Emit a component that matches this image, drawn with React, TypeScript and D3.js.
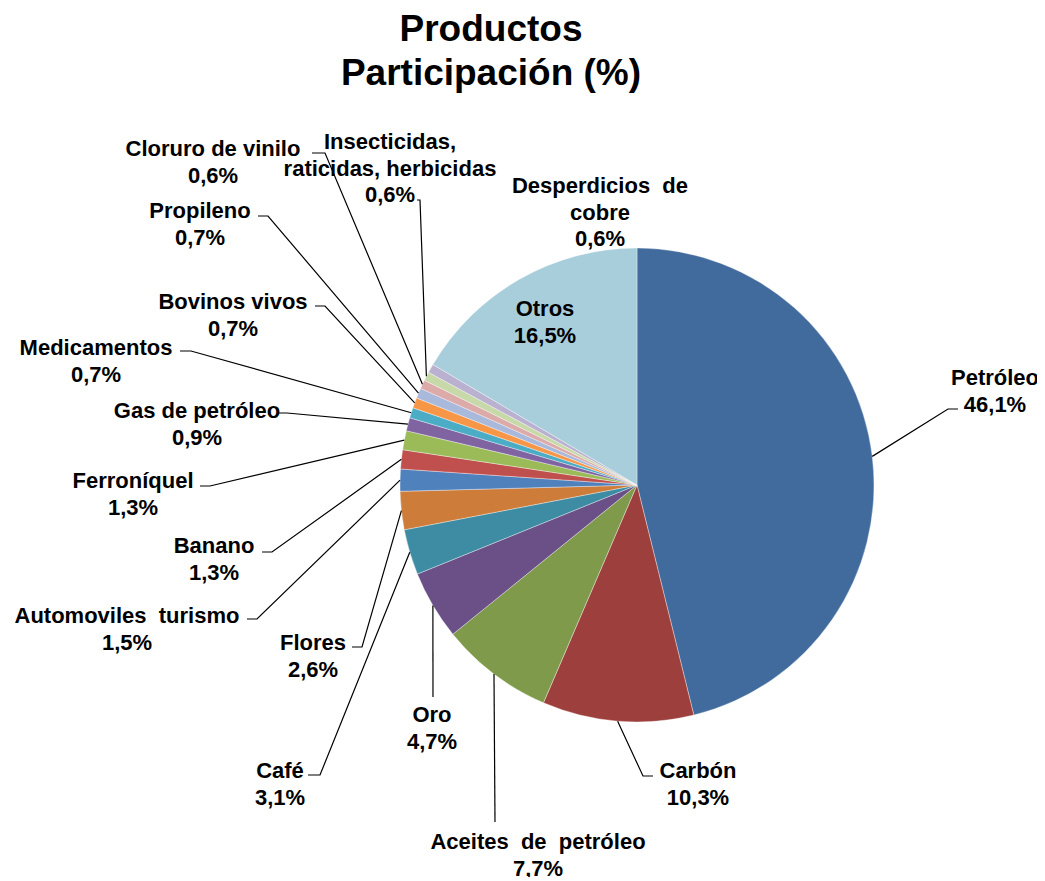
import React, { useEffect, useRef } from 'react';
import * as d3 from 'd3';

// productos y participación (%)
const categories = [
  'Petróleo',
  'Carbón',
  'Aceites de petróleo',
  'Oro',
  'Café',
  'Flores',
  'Automoviles turismo',
  'Banano',
  'Ferroníquel',
  'Gas de petróleo',
  'Medicamentos',
  'Bovinos vivos',
  'Propileno',
  'Cloruro de vinilo',
  'Insecticidas, raticidas, herbicidas',
  'Desperdicios de cobre',
  'Otros',
];
const values = [46.1, 10.3, 7.7, 4.7, 3.1, 2.6, 1.5, 1.3, 1.3, 0.9, 0.7, 0.7, 0.7, 0.6, 0.6, 0.6, 16.5];

// líneas del rótulo (el nombre puede partirse en varias)
const labelLines = [
  ['Petróleo'],
  ['Carbón'],
  ['Aceites  de  petróleo'],
  ['Oro'],
  ['Café'],
  ['Flores'],
  ['Automoviles  turismo'],
  ['Banano'],
  ['Ferroníquel'],
  ['Gas de petróleo'],
  ['Medicamentos'],
  ['Bovinos vivos'],
  ['Propileno'],
  ['Cloruro de vinilo'],
  ['Insecticidas,', 'raticidas, herbicidas'],
  ['Desperdicios  de', 'cobre'],
  ['Otros'],
];

const colors = [
  '#406b9c', '#9d403d', '#7f9a4a', '#6a5087', '#3d8ca4', '#cd7c39',
  '#4f81bd', '#c0504d', '#9bbb59', '#8064a2', '#4bacc6', '#f79646',
  '#a9b9dc', '#dcaaa9', '#c7d9a9', '#bab0cf', '#a9cedb',
];

// posición de rótulos: centro del texto, ancla de la guía, fin del trazo horizontal
const labelPos = [
  { tx: 995, ty: 377, ax: 948, ay: 409, hx: 958 },
  { tx: 698, ty: 770, ax: 643, ay: 776, hx: 653 },
  { tx: 538, ty: 841, ax: 495, ay: 822, hx: null },
  { tx: 432, ty: 714, ax: 433, ay: 697, hx: null },
  { tx: 280, ty: 770, ax: 320, ay: 775, hx: 308 },
  { tx: 313, ty: 642, ax: 362, ay: 647, hx: 352 },
  { tx: 127, ty: 615, ax: 257, ay: 619, hx: 247 },
  { tx: 214, ty: 545, ax: 272, ay: 552, hx: 262 },
  { tx: 133, ty: 480, ax: 210, ay: 486, hx: 200 },
  { tx: 197, ty: 410, ax: 287, ay: 413, hx: 277 },
  { tx: 96, ty: 347, ax: 191, ay: 351, hx: 180 },
  { tx: 233, ty: 301, ax: 325, ay: 306, hx: 315 },
  { tx: 200, ty: 210, ax: 268, ay: 216, hx: 258 },
  { tx: 213, ty: 148, ax: 325, ay: 153, hx: 312 },
  { tx: 390, ty: 141, ax: 420, ay: 200, hx: 417 },
  { tx: 600, ty: 185, ax: null, ay: null, hx: null },
  { tx: 545, ty: 308, ax: null, ay: null, hx: null },
];

const fmt = (v: number) => v.toFixed(1).replace('.', ',') + '%';

const App: React.FC = () => {
  const chartRef = useRef<SVGSVGElement>(null);

  useEffect(() => {
    const svg = d3.select(chartRef.current);
    const width = 1045;
    const height = 881;
    const cx = 637;
    const cy = 485;
    const r = 237;
    const font = "'Liberation Sans', Arial, sans-serif";

    svg.selectAll('*').remove();
    svg.attr('width', width).attr('height', height);

    svg
      .append('text')
      .attr('x', 491)
      .attr('y', 41)
      .attr('text-anchor', 'middle')
      .attr('font-family', font)
      .attr('font-weight', 'bold')
      .attr('font-size', 37)
      .text('Productos');
    svg
      .append('text')
      .attr('x', 491)
      .attr('y', 85)
      .attr('text-anchor', 'middle')
      .attr('font-family', font)
      .attr('font-weight', 'bold')
      .attr('font-size', 37)
      .text('Participación (%)');

    const data = categories.map((c, i) => ({ name: c, value: values[i], i }));
    const pie = d3
      .pie<any>()
      .sort(null)
      .value((d) => d.value);
    const arcs = pie(data);

    const arc = d3.arc<any>().innerRadius(0).outerRadius(r);
    const edge = d3.arc<any>().innerRadius(r).outerRadius(r);

    const g = svg.append('g').attr('transform', `translate(${cx},${cy})`);

    g.selectAll('path.slice')
      .data(arcs)
      .enter()
      .append('path')
      .attr('class', 'slice')
      .attr('d', arc)
      .attr('fill', (d) => colors[d.data.i])
      .attr('stroke', '#ffffff')
      .attr('stroke-opacity', 0.6)
      .attr('stroke-width', 0.6);

    // guías
    arcs.forEach((a) => {
      const p = labelPos[a.data.i];
      if (p.ax == null) return;
      const [ex, ey] = edge.centroid(a);
      const pts: [number, number][] = [[ex + cx, ey + cy], [p.ax, p.ay]];
      if (p.hx != null) pts.push([p.hx, p.ay]);
      svg
        .append('path')
        .attr('d', d3.line()(pts))
        .attr('fill', 'none')
        .attr('stroke', '#000')
        .attr('stroke-width', 1.2);
    });

    // rótulos
    arcs.forEach((a) => {
      const p = labelPos[a.data.i];
      const lines = [...labelLines[a.data.i], fmt(a.data.value)];
      const t = svg
        .append('text')
        .attr('text-anchor', 'middle')
        .attr('font-family', font)
        .attr('font-weight', 'bold')
        .attr('font-size', 22)
        .attr('fill', '#000');
      lines.forEach((l, k) => {
        t.append('tspan')
          .attr('x', p.tx)
          .attr('y', p.ty + 8 + k * 26.5)
          .style('white-space', 'pre')
          .text(l);
      });
    });
  }, []);

  return (
    <div style={{ margin: -8 }}>
      <svg ref={chartRef}></svg>
    </div>
  );
};

export default App;
